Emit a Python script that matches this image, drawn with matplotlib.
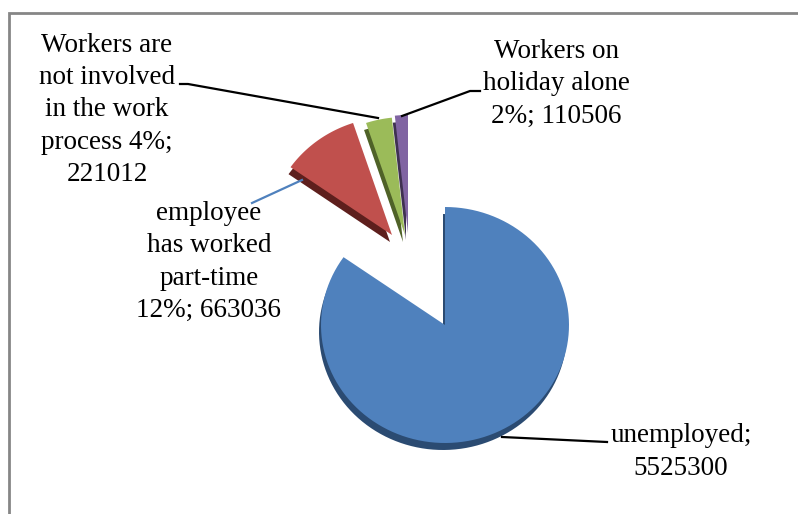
import numpy as np
import matplotlib.pyplot as plt
from matplotlib.patches import Polygon

# categories and counts
names = ['unemployed', 'employee\nhas worked\npart-time', 'Workers are\nnot involved\nin the work\nprocess',
         'Workers on\nholiday alone']
values = [5525300, 663036, 221012, 110506]
pct_text = [None, '12%', '4%', '2%']

face_colors = ['#4F81BD', '#C0504D', '#9BBB59', '#8064A2']
side_colors = ['#2B4B72', '#5E1F1D', '#4F6228', '#3F3151']

# pie geometry in pixels (y grows downward)
cx, cy = 445, 325
rx, ry = 124, 118
depth = (-2, 7)
explode = [(0, 0), (-53, -90), (-40, -90), (-37, -92)]


def wedge_points(x0, y0, t1, t2):
    t = np.radians(np.linspace(t1, t2, 120))
    xs = x0 + rx * np.cos(t)
    ys = y0 - ry * np.sin(t)
    return np.column_stack([np.r_[x0, xs], np.r_[y0, ys]])


fig = plt.figure(figsize=(7.98, 5.14), dpi=100)
ax = fig.add_axes([0, 0, 1, 1])
ax.set_xlim(0, 798)
ax.set_ylim(514, 0)
ax.axis('off')

# chart frame (runs off the right and bottom)
ax.plot([9, 9, 800], [520, 13, 13], color='#868686', lw=2, solid_joinstyle='miter')

fracs = np.array(values) / float(sum(values))
start = 90.0
for i, f in enumerate(fracs):
    t2 = start
    t1 = start - f * 360
    start = t1
    x0 = cx + explode[i][0]
    y0 = cy + explode[i][1]
    side = wedge_points(x0 + depth[0], y0 + depth[1], t1, t2)
    ax.add_patch(Polygon(side, closed=True, facecolor=side_colors[i], edgecolor='none'))
    top = wedge_points(x0, y0, t1, t2)
    ax.add_patch(Polygon(top, closed=True, facecolor=face_colors[i], edgecolor='none'))

# data labels
labels = []
for n, p, v in zip(names, pct_text, values):
    if p is None:
        labels.append('%s;\n%d' % (n, v))
    elif n.startswith('Workers are'):
        labels.append('%s %s;\n%d' % (n, p, v))
    else:
        labels.append('%s\n%s; %d' % (n, p, v))

label_pos = [(681, 452), (209, 262), (107, 110), (556, 84)]
for s, (x, y) in zip(labels, label_pos):
    ax.text(x, y, s, ha='center', va='center', fontsize=19.5,
            family='Liberation Serif', linespacing=1.38, color='black')

# leader lines
ax.plot([502, 607], [437, 442], color='black', lw=1.6)
ax.plot([252, 302], [203, 180], color='#4F81BD', lw=1.6)
ax.plot([180, 188, 378], [84, 84, 118], color='black', lw=1.6)
ax.plot([480, 470, 402], [91, 91, 116], color='black', lw=1.6)

fig.savefig('out.png', dpi=100)
